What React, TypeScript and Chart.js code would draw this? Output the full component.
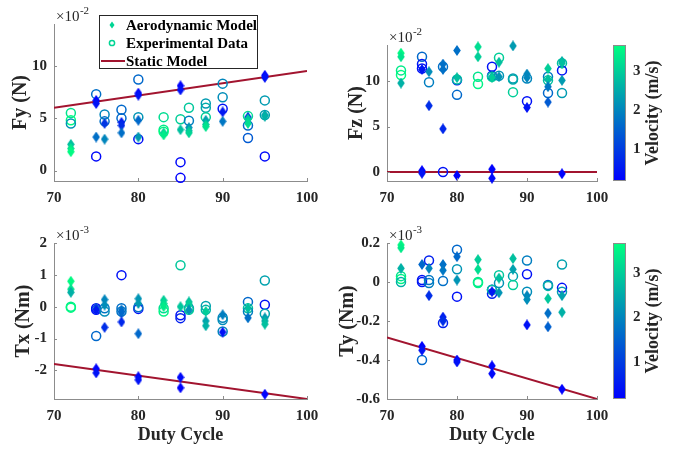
import React, { useEffect, useRef } from 'react';
import { Chart, registerables } from 'chart.js';

Chart.register(...registerables);

type Pt = [number, number, number]; // [duty cycle, value, velocity m/s]

// ---------- data ----------
const dutyTicks = [70, 80, 90, 100];
const velocityTicks = [1, 2, 3];
const velocityMin = 0.17;
const velocityMax = 3.67;
const staticDuty = [70, 100];

const fyTicks = [0, 5, 10];
const fyStatic = [6.0, 9.5];
const fyAero: Pt[] = [
  [72, 2.5, 2.8], [72, 2.1, 3.3], [72, 1.8, 3.6],
  [75, 6.7, 0.2], [75, 6.4, 0.4], [75, 3.2, 1.7],
  [76, 4.5, 0.9], [76, 3.0, 2.0],
  [78, 4.6, 0.6], [78, 4.3, 0.8], [78, 3.6, 1.7],
  [80, 7.4, 0.2], [80, 7.2, 0.4], [80, 4.8, 1.6], [80, 3.2, 2.3],
  [83, 3.6, 3.0], [83, 3.4, 3.4],
  [85, 8.1, 0.2], [85, 7.7, 0.4], [85, 3.9, 2.8],
  [86, 4.1, 2.2], [86, 3.8, 2.7], [86, 3.6, 3.1],
  [88, 4.8, 2.4], [88, 4.4, 2.9], [88, 4.2, 3.3],
  [90, 5.6, 0.5], [90, 4.7, 1.8],
  [93, 5.1, 0.9], [93, 4.9, 2.9], [93, 4.5, 3.2],
  [95, 9.1, 0.2], [95, 8.9, 0.4], [95, 5.3, 2.3], [95, 5.2, 2.6],
];
const fyExp: Pt[] = [
  [72, 5.5, 3.3], [72, 4.8, 3.6], [72, 4.5, 2.2],
  [75, 7.3, 1.7], [75, 1.35, 0.3],
  [76, 5.35, 2.0], [76, 4.7, 1.7],
  [78, 5.8, 1.6], [78, 5.0, 1.6],
  [80, 8.7, 1.6], [80, 5.1, 2.2], [80, 3.0, 0.4],
  [83, 5.1, 3.2], [83, 3.9, 3.4], [83, 3.7, 3.6],
  [85, 4.9, 3.0], [85, 0.8, 0.3], [85, -0.7, 0.2],
  [86, 6.0, 2.9], [86, 4.75, 1.9],
  [88, 6.4, 2.3], [88, 6.0, 2.5], [88, 5.1, 3.0],
  [90, 8.3, 2.0], [90, 7.0, 2.1], [90, 5.9, 0.4],
  [93, 5.2, 3.2], [93, 4.3, 1.6], [93, 3.1, 1.4],
  [95, 6.7, 2.3], [95, 5.3, 2.4], [95, 1.35, 0.3],
];

const fzTicks = [0, 5, 10];
const fzStatic = [0, 0];
const fzAero: Pt[] = [
  [72, 13.1, 3.6], [72, 12.7, 3.3], [72, 9.8, 2.6],
  [75, 11.3, 0.5], [75, 0.15, 0.2], [75, -0.15, 0.4],
  [76, 11.05, 2.1], [76, 7.3, 0.8],
  [78, 11.9, 1.7], [78, 11.3, 1.7], [78, 4.75, 0.7],
  [80, 13.4, 1.7], [80, 10.4, 2.8], [80, -0.4, 0.2],
  [83, 13.8, 3.2], [83, 12.7, 3.0],
  [85, 10.5, 2.2], [85, 10.4, 3.0], [85, 0.3, 0.2], [85, -0.7, 0.3],
  [86, 12.1, 2.8], [86, 10.5, 2.2],
  [88, 13.9, 2.3],
  [90, 10.8, 2.0], [90, 10.4, 2.0], [90, 7.1, 0.4],
  [93, 11.4, 3.0], [93, 10.2, 2.8], [93, 9.4, 1.8], [93, 7.7, 1.4],
  [95, 12.2, 2.6], [95, 12.0, 2.8], [95, 10.1, 2.3], [95, -0.2, 0.2],
];
const fzExp: Pt[] = [
  [72, 11.2, 3.4], [72, 10.7, 3.6],
  [75, 12.7, 1.6], [75, 11.9, 0.5], [75, 11.4, 0.4],
  [76, 9.9, 1.9],
  [78, 11.6, 1.7], [78, 0.0, 0.4],
  [80, 10.1, 0.4], [80, 10.2, 2.7], [80, 8.5, 1.6],
  [83, 10.5, 3.3], [83, 9.7, 3.5],
  [85, 11.6, 0.4], [85, 10.6, 0.6], [85, 10.5, 2.9],
  [86, 12.6, 3.0], [86, 10.6, 2.2],
  [88, 10.3, 2.3], [88, 10.2, 2.5], [88, 8.8, 3.0],
  [90, 10.3, 2.0], [90, 7.8, 0.4],
  [93, 10.5, 1.8], [93, 10.1, 2.8], [93, 8.7, 1.6],
  [95, 12.0, 2.8], [95, 11.2, 0.4], [95, 8.7, 2.3],
];

const txTicks = [-2, -1, 0, 1, 2];
const txStatic = [-1.8, -2.9];
const txAero: Pt[] = [
  [72, 0.8, 3.6], [72, 0.55, 3.3], [72, 0.45, 2.6],
  [75, -0.05, 1.7], [75, -0.1, 0.5], [75, -1.95, 0.2], [75, -2.08, 0.4],
  [76, 0.22, 2.0], [76, 0.05, 2.1], [76, -0.65, 0.8],
  [78, -0.1, 1.7], [78, -0.2, 1.6], [78, -0.48, 0.7],
  [80, 0.25, 2.2], [80, 0.1, 2.3], [80, -0.85, 1.6], [80, -2.2, 0.2], [80, -2.3, 0.4],
  [83, 0.2, 3.0], [83, 0.1, 3.2], [83, 0.0, 3.4],
  [85, 0.0, 2.9], [85, -2.22, 0.3], [85, -2.55, 0.2],
  [86, 0.15, 2.8], [86, 0.08, 3.0], [86, -0.1, 2.2],
  [88, -0.15, 3.0], [88, -0.45, 2.4], [88, -0.6, 2.6],
  [90, -0.25, 1.9], [90, -0.8, 0.4],
  [93, -0.05, 2.8], [93, -0.35, 1.7],
  [95, -0.35, 2.3], [95, -0.45, 2.6], [95, -0.55, 2.8], [95, -2.75, 0.2],
];
const txExp: Pt[] = [
  [72, 0.0, 3.4], [72, -0.03, 3.6],
  [75, -0.05, 0.4], [75, -0.1, 0.5], [75, -0.92, 1.6],
  [76, -0.05, 1.8], [76, -0.15, 2.1],
  [78, 0.99, 0.4], [78, -0.05, 1.7], [78, -0.15, 1.8],
  [80, -0.07, 0.4], [80, -0.02, 1.7],
  [83, -0.05, 3.2], [83, -0.15, 3.5],
  [85, 1.3, 2.9], [85, -0.27, 0.4], [85, -0.36, 0.6],
  [86, -0.05, 2.2], [86, -0.1, 3.0],
  [88, 0.02, 2.4], [88, -0.1, 2.6],
  [90, -0.35, 2.0], [90, -0.42, 2.1], [90, -0.78, 2.0],
  [93, 0.15, 1.6], [93, -0.05, 2.8], [93, -0.15, 1.9],
  [95, 0.82, 2.4], [95, 0.06, 0.4], [95, -0.22, 2.4],
];

const tyTicks = [-0.6, -0.4, -0.2, 0, 0.2];
const tyStatic = [-0.285, -0.6];
const tyAero: Pt[] = [
  [72, 0.19, 3.6], [72, 0.175, 3.4], [72, 0.07, 2.6],
  [75, 0.09, 1.6], [75, -0.33, 0.2], [75, -0.35, 0.4],
  [76, 0.07, 2.0], [76, -0.07, 0.8],
  [78, 0.09, 1.7], [78, 0.06, 1.8], [78, -0.18, 0.6], [78, -0.2, 0.8],
  [80, 0.13, 1.6], [80, 0.01, 2.2], [80, -0.4, 0.2], [80, -0.41, 0.4],
  [83, 0.115, 3.0], [83, 0.065, 3.2],
  [85, -0.05, 0.5], [85, -0.43, 0.2], [85, -0.47, 0.3],
  [86, 0.02, 2.8], [86, -0.055, 2.2],
  [88, 0.12, 2.8], [88, 0.065, 2.4],
  [90, -0.07, 2.0], [90, -0.09, 2.1], [90, -0.22, 0.4],
  [93, -0.085, 2.9], [93, -0.16, 1.7], [93, -0.23, 1.5],
  [95, -0.07, 2.4], [95, -0.155, 2.6], [95, -0.55, 0.2],
];
const tyExp: Pt[] = [
  [72, 0.03, 3.3], [72, 0.015, 3.5], [72, 0.0, 2.6],
  [75, 0.01, 0.4], [75, 0.0, 0.5], [75, -0.4, 1.6],
  [76, 0.11, 0.6], [76, 0.01, 1.8], [76, -0.005, 1.9],
  [78, 0.005, 1.7], [78, -0.21, 0.6],
  [80, 0.165, 1.6], [80, 0.065, 2.2], [80, -0.075, 0.4],
  [83, 0.0, 3.3], [83, -0.005, 3.5],
  [85, -0.04, 0.4], [85, -0.06, 0.6], [85, -0.04, 2.9],
  [86, 0.035, 2.9], [86, -0.005, 2.2],
  [88, 0.03, 2.4], [88, -0.015, 3.0],
  [90, 0.11, 1.9], [90, 0.04, 0.4], [90, -0.05, 2.1],
  [93, -0.015, 1.6], [93, -0.02, 2.6],
  [95, 0.09, 2.4], [95, -0.03, 0.4], [95, -0.05, 2.3],
];

// ---------- styling ----------
const W = 681;
const H = 450;
const serif = '"Liberation Serif", "Times New Roman", serif';
const textColor = '#262626';
const axisColor = '#8c8c8c';
const staticColor = 'rgb(162, 20, 47)';
const tickFont = 15;
const yTitleFont = 20;
const xTitleFont = 18;
const cbWidth = 84;

Chart.defaults.font.family = serif;

function velocityColor(v: number): string {
  const t = Math.min(1, Math.max(0, (v - velocityMin) / (velocityMax - velocityMin)));
  return `rgb(0, ${Math.round(255 * t)}, ${Math.round(255 * (1 - 0.5 * t))})`;
}

const diamondCache = new Map<string, HTMLCanvasElement>();
function diamondImage(color: string): HTMLCanvasElement {
  let c = diamondCache.get(color);
  if (!c) {
    c = document.createElement('canvas');
    c.width = 8;
    c.height = 11;
    const g = c.getContext('2d')!;
    g.fillStyle = color;
    g.beginPath();
    g.moveTo(4, 0);
    g.lineTo(7.8, 5.5);
    g.lineTo(4, 11);
    g.lineTo(0.2, 5.5);
    g.closePath();
    g.fill();
    diamondCache.set(color, c);
  }
  return c;
}

interface Area { left: number; right: number; top: number; bottom: number }
interface PanelSpec {
  title: string;
  exponent: string;
  yMin: number;
  yMax: number;
  yTicks: number[];
  aero: Pt[];
  exp: Pt[];
  staticVals: number[];
  area: Area;
  yTitleX: number;
  xTitle: boolean;
  legend: boolean;
  colorbar: boolean;
}

const panels: PanelSpec[] = [
  { title: 'Fy (N)', exponent: '-2', yMin: -1, yMax: 14, yTicks: fyTicks, aero: fyAero, exp: fyExp, staticVals: fyStatic,
    area: { left: 54, right: 307, top: 24, bottom: 181 }, yTitleX: 21, xTitle: false, legend: true, colorbar: false },
  { title: 'Fz (N)', exponent: '-2', yMin: -1, yMax: 14, yTicks: fzTicks, aero: fzAero, exp: fzExp, staticVals: fzStatic,
    area: { left: 387, right: 597, top: 24, bottom: 181 }, yTitleX: 357, xTitle: false, legend: false, colorbar: true },
  { title: 'Tx (Nm)', exponent: '-3', yMin: -2.9, yMax: 2, yTicks: txTicks, aero: txAero, exp: txExp, staticVals: txStatic,
    area: { left: 54, right: 307, top: 243, bottom: 399 }, yTitleX: 24, xTitle: true, legend: false, colorbar: false },
  { title: 'Ty (Nm)', exponent: '-3', yMin: -0.6, yMax: 0.2, yTicks: tyTicks, aero: tyAero, exp: tyExp, staticVals: tyStatic,
    area: { left: 387, right: 597, top: 243, bottom: 399 }, yTitleX: 348, xTitle: true, legend: false, colorbar: true },
];

const decoPlugin = {
  id: 'deco',
  afterDraw(chart: any, _args: any, opts: any) {
    const ctx: CanvasRenderingContext2D = chart.ctx;
    const { left, top, bottom } = chart.chartArea;
    const xs = chart.scales.x;
    const ys = chart.scales.y;
    ctx.save();
    // inward tick marks
    ctx.strokeStyle = axisColor;
    ctx.lineWidth = 1;
    ctx.beginPath();
    xs.ticks.forEach((t: any) => {
      const px = Math.round(xs.getPixelForValue(t.value)) + 0.5;
      ctx.moveTo(px, bottom);
      ctx.lineTo(px, bottom - 3);
    });
    ys.ticks.forEach((t: any) => {
      const py = Math.round(ys.getPixelForValue(t.value)) + 0.5;
      ctx.moveTo(left, py);
      ctx.lineTo(left + 3, py);
    });
    ctx.stroke();

    // exponent label
    ctx.fillStyle = textColor;
    ctx.textAlign = 'left';
    ctx.textBaseline = 'alphabetic';
    ctx.font = `15px ${serif}`;
    const ex = left + 2;
    const ey = top - 3;
    ctx.fillText('×10', ex, ey);
    const w = ctx.measureText('×10').width;
    ctx.font = `11px ${serif}`;
    ctx.fillText(opts.exponent, ex + w + 0.5, ey - 7);

    // legend
    if (opts.legend) {
      const ds = chart.data.datasets;
      const bx = 99.5, by = 15.5, bw = 158, bh = 53;
      ctx.fillStyle = '#ffffff';
      ctx.fillRect(bx, by, bw, bh);
      ctx.strokeStyle = textColor;
      ctx.lineWidth = 1;
      ctx.strokeRect(bx, by, bw, bh);
      const rows = [25, 43, 61];
      const mx = 112;
      const legendColor = velocityColor(3.1);
      // aero marker
      ctx.fillStyle = legendColor;
      ctx.beginPath();
      ctx.moveTo(mx, rows[0] - 3.5);
      ctx.lineTo(mx + 2.5, rows[0]);
      ctx.lineTo(mx, rows[0] + 3.5);
      ctx.lineTo(mx - 2.5, rows[0]);
      ctx.closePath();
      ctx.fill();
      // exp marker
      ctx.strokeStyle = legendColor;
      ctx.lineWidth = 1.5;
      ctx.beginPath();
      ctx.arc(mx, rows[1], 2.6, 0, Math.PI * 2);
      ctx.stroke();
      // static line
      ctx.strokeStyle = staticColor;
      ctx.lineWidth = 2;
      ctx.beginPath();
      ctx.moveTo(101, rows[2]);
      ctx.lineTo(125, rows[2]);
      ctx.stroke();
      ctx.fillStyle = '#000';
      ctx.font = `bold 15px ${serif}`;
      ctx.textBaseline = 'middle';
      ds.forEach((d: any, i: number) => ctx.fillText(d.label, 126, rows[i] + 1));
    }

    // colorbar
    const cb = chart.scales.cb;
    if (cb) {
      const x0 = cb.left + 16;
      const cw = 13;
      const yTop = cb.getPixelForValue(velocityMax);
      const yBot = cb.getPixelForValue(velocityMin);
      const g = ctx.createLinearGradient(0, yBot, 0, yTop);
      g.addColorStop(0, velocityColor(velocityMin));
      g.addColorStop(1, velocityColor(velocityMax));
      ctx.fillStyle = g;
      ctx.fillRect(x0, yTop, cw, yBot - yTop);
      ctx.strokeStyle = axisColor;
      ctx.lineWidth = 1;
      ctx.strokeRect(x0 + 0.5, yTop + 0.5, cw - 1, yBot - yTop - 1);
      ctx.translate(cb.left + 56, (yTop + yBot) / 2);
      ctx.rotate(-Math.PI / 2);
      ctx.fillStyle = textColor;
      ctx.font = `bold 18px ${serif}`;
      ctx.textAlign = 'center';
      ctx.textBaseline = 'middle';
      ctx.fillText(opts.colorbarTitle, 0, 0);
    }
    ctx.restore();
  },
};

function fmt(v: number): string {
  return String(Number(v.toFixed(2)));
}

function buildConfig(p: PanelSpec): any {
  const yOffset = (yTitleFont * 1.2) / 2;
  const padLeft = p.yTitleX - yOffset;
  const yAxisWidth = p.area.left - padLeft;
  const padRight = p.colorbar ? W - p.area.right - cbWidth : W - p.area.right;
  const xTitleY = 435;
  const padBottom = p.xTitle ? H - (xTitleY + (xTitleFont * 1.2) / 2) : H - p.area.bottom - 30;
  const xAxisHeight = H - padBottom - p.area.bottom;
  const tickOpts = { font: { family: serif, size: tickFont, weight: 'bold' }, color: textColor };

  const scales: any = {
    x: {
      type: 'linear', position: 'bottom', min: 70, max: 100,
      afterBuildTicks: (s: any) => { s.ticks = dutyTicks.map((v) => ({ value: v })); },
      afterFit: (s: any) => { s.height = xAxisHeight; },
      grid: { display: false, drawTicks: false },
      border: { display: true, color: axisColor, width: 1 },
      ticks: { ...tickOpts, padding: 8, maxRotation: 0, autoSkip: false, callback: (v: any) => fmt(Number(v)) },
      title: { display: p.xTitle, text: 'Duty Cycle', color: textColor, padding: 0,
        font: { family: serif, size: xTitleFont, weight: 'bold' } },
    },
    y: {
      type: 'linear', position: 'left', min: p.yMin, max: p.yMax,
      afterBuildTicks: (s: any) => { s.ticks = p.yTicks.map((v) => ({ value: v })); },
      afterFit: (s: any) => { s.width = yAxisWidth; },
      grid: { display: false, drawTicks: false },
      border: { display: true, color: axisColor, width: 1 },
      ticks: { ...tickOpts, padding: 7, autoSkip: false, callback: (v: any) => fmt(Number(v)) },
      title: { display: true, text: p.title, color: textColor, padding: 0,
        font: { family: serif, size: yTitleFont, weight: 'bold' } },
    },
  };
  if (p.colorbar) {
    scales.cb = {
      type: 'linear', position: 'right', min: velocityMin, max: velocityMax,
      afterBuildTicks: (s: any) => { s.ticks = velocityTicks.map((v) => ({ value: v })); },
      afterFit: (s: any) => { s.width = cbWidth; },
      grid: { display: false, drawTicks: false },
      border: { display: false },
      ticks: { ...tickOpts, padding: 36, autoSkip: false, callback: (v: any) => fmt(Number(v)) },
    };
  }

  return {
    type: 'scatter',
    data: {
      datasets: [
        {
          type: 'scatter', label: 'Aerodynamic Model', order: 0, clip: false,
          data: p.aero.map(([x, y, v]) => ({ x, y, v })),
          pointStyle: (c: any) => diamondImage(velocityColor(c.raw ? c.raw.v : 3)),
          pointRadius: 5,
          pointBackgroundColor: (c: any) => velocityColor(c.raw ? c.raw.v : 3),
          pointBorderWidth: 0,
        },
        {
          type: 'scatter', label: 'Experimental Data', order: 1, clip: false,
          data: p.exp.map(([x, y, v]) => ({ x, y, v })),
          pointStyle: 'circle', pointRadius: 4.5, pointBorderWidth: 1.5,
          pointBorderColor: (c: any) => velocityColor(c.raw ? c.raw.v : 3),
          pointBackgroundColor: 'rgba(0,0,0,0)',
        },
        {
          type: 'line', label: 'Static Model', order: 2,
          data: staticDuty.map((x, i) => ({ x, y: p.staticVals[i] })),
          borderColor: staticColor, borderWidth: 2, pointRadius: 0, showLine: true, fill: false,
        },
      ],
    },
    options: {
      responsive: false,
      animation: false,
      events: [],
      devicePixelRatio: 1,
      layout: { padding: { left: padLeft, right: padRight, top: p.area.top, bottom: padBottom } },
      scales,
      plugins: {
        legend: { display: false },
        tooltip: { enabled: false },
        deco: { exponent: p.exponent, legend: p.legend, colorbarTitle: 'Velocity (m/s)' },
      },
    },
    plugins: [decoPlugin],
  };
}

function Panel({ spec }: { spec: PanelSpec }) {
  const ref = useRef<HTMLCanvasElement>(null);
  useEffect(() => {
    const chart = new Chart(ref.current as HTMLCanvasElement, buildConfig(spec));
    return () => chart.destroy();
  }, [spec]);
  return (
    <canvas
      ref={ref}
      width={W}
      height={H}
      style={{ position: 'absolute', left: 0, top: 0, width: W, height: H }}
    />
  );
}

export default function App() {
  return (
    <div style={{ position: 'absolute', left: 0, top: 0, width: W, height: H, background: '#fff' }}>
      {panels.map((p, i) => (
        <Panel key={i} spec={p} />
      ))}
    </div>
  );
}
